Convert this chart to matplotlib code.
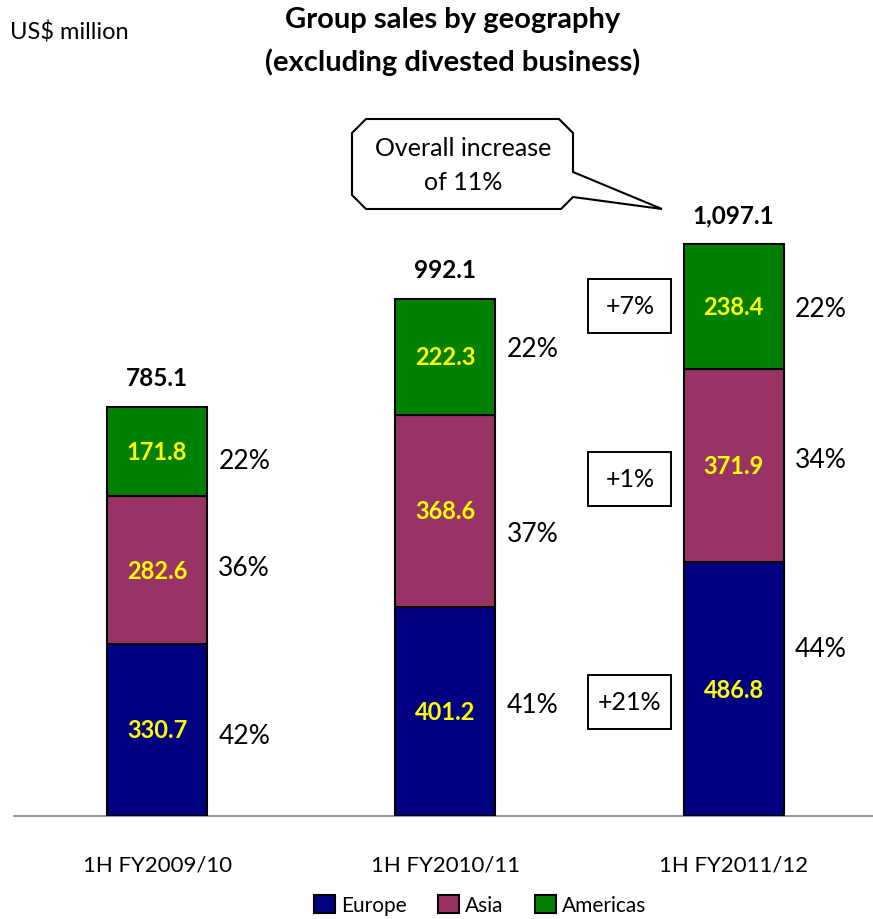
import numpy as np
import matplotlib.pyplot as plt
from matplotlib.patches import Polygon, Rectangle

plt.rcParams['font.family'] = ['Lato', 'DejaVu Sans']

periods = ['1H FY2009/10', '1H FY2010/11', '1H FY2011/12']
europe = [330.7, 401.2, 486.8]
asia = [282.6, 368.6, 371.9]
americas = [171.8, 222.3, 238.4]
share_labels = [['42%', '36%', '22%'],
                ['41%', '37%', '22%'],
                ['44%', '34%', '22%']]
growth_labels = ['+21%', '+1%', '+7%']

W, H = 873, 920
fig = plt.figure(figsize=(W / 100, H / 100), dpi=100)
ax = fig.add_axes([14 / W, 103 / H, (W - 14) / W, 717 / H])

x = np.arange(len(periods))
width = 0.347
series = [(europe, '#000080', 'Europe'),
          (asia, '#993366', 'Asia'),
          (americas, '#008000', 'Americas')]

bottom = np.zeros(len(periods))
mids = []
for vals, color, name in series:
    vals = np.array(vals)
    ax.bar(x, vals, width, bottom=bottom, color=color, edgecolor='black',
           linewidth=1.5, label=name, zorder=3)
    mid = bottom + vals / 2
    mids.append(mid)
    for xi, yi, v in zip(x, mid, vals):
        ax.text(xi, yi, f'{v:.1f}', ha='center', va='center', color='#FFFF00',
                fontsize=17, fontweight='bold', zorder=4)
    bottom = bottom + vals

# totals above each stack
for xi, t in zip(x, bottom):
    ax.annotate(f'{t:,.1f}', (xi, t), xytext=(0, 21), textcoords='offset points',
                ha='center', va='center', fontsize=17.5, fontweight='bold')

# share of total to the right of each bar (nudged in px)
share_nudge = [[-6, 3, -9], [7, -23, 8], [41, 6, -2]]
for i in range(len(periods)):
    for j in range(3):
        ax.annotate(share_labels[i][j], (x[i] + width / 2, mids[j][i]),
                    xytext=(8, share_nudge[i][j] * 0.72), textcoords='offset points',
                    ha='left', va='center', fontsize=19)

# year-on-year growth boxes beside the latest bar
box_x = x[-1] - 0.36
box_w, box_h = 0.288, 104
growth_shift = [-24, -26, 1]
for j, g in enumerate(growth_labels):
    yc = mids[j][-1] + growth_shift[j]
    ax.add_patch(Rectangle((box_x - box_w / 2, yc - box_h / 2), box_w, box_h,
                           fc='white', ec='black', lw=1.4, zorder=3))
    ax.text(box_x, yc, g, ha='center', va='center', fontsize=18, zorder=4)

ax.set_xlim(-0.4965, 2.483)
ax.set_ylim(0, 1376)
ax.set_xticks(x)
ax.set_xticklabels(periods, fontsize=16)
ax.tick_params(axis='x', length=0, pad=28)
ax.set_yticks([])
for s in ['top', 'right', 'left']:
    ax.spines[s].set_visible(False)
ax.spines['bottom'].set_color('#888888')
ax.spines['bottom'].set_linewidth(1.2)

# speech bubble
def px(p):
    return (p[0] / W, 1 - p[1] / H)

x0, x1, y0, y1, c = 352, 573, 120, 210, 14
bubble = [(x0 + c, y0), (x1 - c, y0), (x1, y0 + c), (x1, 173), (662, 210),
          (x1, 198), (x1 - 12, y1), (x0 + c, y1), (x0, y1 - c), (x0, y0 + c)]
fig.patches.append(Polygon([px(p) for p in bubble], closed=True, fc='white',
                           ec='black', lw=1.5, transform=fig.transFigure))
fig.text(463 / W, 1 - 148 / H, 'Overall increase', ha='center', va='center', fontsize=18)
fig.text(463 / W, 1 - 183 / H, 'of 11%', ha='center', va='center', fontsize=18)

fig.text(453 / W, 1 - 20 / H, 'Group sales by geography', ha='center', va='center',
         fontsize=21, fontweight='bold')
fig.text(453 / W, 1 - 62 / H, '(excluding divested business)', ha='center', va='center',
         fontsize=21, fontweight='bold')
fig.text(10 / W, 1 - 33 / H, 'US$ million', ha='left', va='center', fontsize=17)

fig.legend(loc='center', bbox_to_anchor=(480 / W, 1 - 906 / H), ncol=3, frameon=False,
           fontsize=15, handlelength=1, handleheight=1, handletextpad=0.3,
           columnspacing=1.5)

fig.savefig('out.png', dpi=100)
